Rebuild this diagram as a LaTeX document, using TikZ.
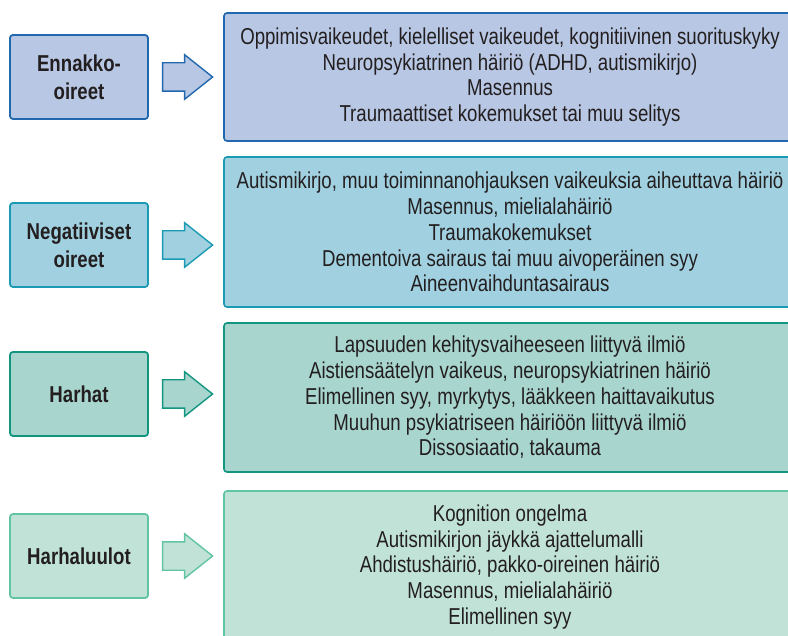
\documentclass[tikz,border=0pt]{standalone}
\usepackage{fontspec}
\setmainfont[FakeStretch=0.81]{Liberation Sans}
\usepackage{xcolor}
\usepackage{tikz}
\usetikzlibrary{shapes.arrows}

\definecolor{txt}{HTML}{231F20}
\definecolor{fillA}{HTML}{B8C7E3}
\definecolor{lineA}{HTML}{2268AE}
\definecolor{fillB}{HTML}{A1D1E0}
\definecolor{lineB}{HTML}{1B9AB4}
\definecolor{fillC}{HTML}{A8D5CE}
\definecolor{lineC}{HTML}{12967F}
\definecolor{fillD}{HTML}{C1E3D7}
\definecolor{lineD}{HTML}{62C5A2}

\begin{document}
\begin{tikzpicture}[x=1pt, y=-1pt,
    cat/.style={draw, rounded corners=3pt, line width=1.8pt, minimum width=138pt,
        minimum height=84pt, align=center, text=txt,
        font=\bfseries\fontsize{23}{28}\selectfont},
    list/.style={draw, rounded corners=3pt, line width=1.6pt, minimum width=572pt,
        align=center, text=txt, font=\fontsize{23}{25.8}\selectfont},
    flow/.style={single arrow, draw, line width=1.4pt, text height=13.5pt,
        text depth=13.5pt, inner sep=0pt, minimum height=50pt,
        single arrow head extend=8pt, single arrow tip angle=77, anchor=tail}]
    \clip (0,0) rectangle (788,636);

    % Ennakko-oireet
    \node[cat, fill=fillA, draw=lineA] (enna) at (79,77) {Ennakko-\\oireet};
    \node[list, fill=fillA, draw=lineA, minimum height=128pt] (ennaList) at (510,77)
        {Oppimisvaikeudet, kielelliset vaikeudet, kognitiivinen suorituskyky\\
         Neuropsykiatrinen häiriö (ADHD, autismikirjo)\\
         Masennus\\
         Traumaattiset kokemukset tai muu selitys};

    % Negatiiviset oireet
    \node[cat, fill=fillB, draw=lineB] (nega) at (79,245) {Negatiiviset\\oireet};
    \node[list, fill=fillB, draw=lineB, minimum height=150pt] (negaList) at (510,232)
        {Autismikirjo, muu toiminnanohjauksen vaikeuksia aiheuttava häiriö\\
         Masennus, mielialahäiriö\\
         Traumakokemukset\\
         Dementoiva sairaus tai muu aivoperäinen syy\\
         Aineenvaihduntasairaus};

    % Harhat
    \node[cat, fill=fillC, draw=lineC] (harh) at (79,394) {Harhat};
    \node[list, fill=fillC, draw=lineC, minimum height=149pt] (harhList) at (510,397.5)
        {Lapsuuden kehitysvaiheeseen liittyvä ilmiö\\
         Aistiensäätelyn vaikeus, neuropsykiatrinen häiriö\\
         Elimellinen syy, myrkytys, lääkkeen haittavaikutus\\
         Muuhun psykiatriseen häiriöön liittyvä ilmiö\\
         Dissosiaatio, takauma};

    % Harhaluulot
    \node[cat, fill=fillD, draw=lineD] (luul) at (79,556) {Harhaluulot};
    \node[list, fill=fillD, draw=lineD, minimum height=152pt] (luulList) at (510,567)
        {Kognition ongelma\\
         Autismikirjon jäykkä ajattelumalli\\
         Ahdistushäiriö, pakko-oireinen häiriö\\
         Masennus, mielialahäiriö\\
         Elimellinen syy};

    % Arrows
    \node[flow, fill=fillA, draw=lineA] (arrA) at ([xshift=13pt]enna.east) {};
    \node[flow, fill=fillB, draw=lineB] (arrB) at ([xshift=13pt]nega.east) {};
    \node[flow, fill=fillC, draw=lineC] (arrC) at ([xshift=13pt]harh.east) {};
    \node[flow, fill=fillD, draw=lineD] (arrD) at ([xshift=13pt]luul.east) {};
\end{tikzpicture}
\end{document}
